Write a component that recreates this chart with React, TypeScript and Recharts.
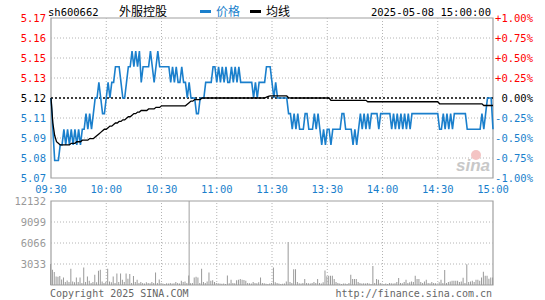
import React from 'react';
import { ComposedChart, Line, Bar, XAxis, YAxis, ReferenceLine, ReferenceArea } from 'recharts';

const STOCK_CODE = 'sh600662';
const STOCK_NAME = '外服控股';
const LEGEND_PRICE = '价格';
const LEGEND_AVG = '均线';
const DATE_TEXT = '2025-05-08 15:00:00';
const COPYRIGHT = 'Copyright 2025 SINA.COM';
const URL_TEXT = 'http://finance.sina.com.cn';

const PREV_CLOSE = 5.12;
const PRICE_MIN = 5.0688;
const PRICE_MAX = 5.1712;
const priceTicks = [5.0688, 5.0816, 5.0944, 5.1072, 5.12, 5.1328, 5.1456, 5.1584, 5.1712];
const pctTicks = [-1, -0.75, -0.5, -0.25, 0, 0.25, 0.5, 0.75, 1];
const minuteTicks = [0, 30, 60, 90, 120, 150, 180, 210, 240];
const timeLabels = ['09:30', '10:00', '10:30', '11:00', '11:30', '13:30', '14:00', '14:30', '15:00'];
const VOL_MAX = 12132;
const volTicks = [3033, 6066, 9099, 12132];
const VOL_MARKER_MINUTE = 75;

const prices = [
  5.12, 5.10, 5.08, 5.08, 5.08, 5.09, 5.09, 5.10, 5.09, 5.10,
  5.09, 5.10, 5.09, 5.10, 5.09, 5.10, 5.09, 5.10, 5.10, 5.11,
  5.10, 5.11, 5.10, 5.11, 5.12, 5.12, 5.13, 5.12, 5.11, 5.11,
  5.12, 5.13, 5.12, 5.13, 5.13, 5.14, 5.14, 5.14, 5.13, 5.12,
  5.12, 5.13, 5.14, 5.14, 5.15, 5.14, 5.15, 5.14, 5.15, 5.13,
  5.14, 5.14, 5.14, 5.14, 5.15, 5.14, 5.13, 5.14, 5.15, 5.14,
  5.14, 5.14, 5.14, 5.14, 5.14, 5.13, 5.14, 5.13, 5.14, 5.13,
  5.13, 5.14, 5.13, 5.13, 5.12, 5.13, 5.12, 5.12, 5.12, 5.11,
  5.11, 5.12, 5.12, 5.12, 5.13, 5.13, 5.13, 5.13, 5.14, 5.14,
  5.13, 5.14, 5.13, 5.14, 5.13, 5.14, 5.13, 5.13, 5.14, 5.13,
  5.14, 5.13, 5.14, 5.13, 5.13, 5.13, 5.13, 5.13, 5.13, 5.13,
  5.12, 5.13, 5.12, 5.13, 5.13, 5.13, 5.13, 5.14, 5.14, 5.14,
  5.13, 5.12, 5.13, 5.12, 5.12, 5.12, 5.12, 5.12, 5.12, 5.11,
  5.11, 5.10, 5.11, 5.10, 5.11, 5.10, 5.10, 5.10, 5.11, 5.11,
  5.10, 5.10, 5.10, 5.11, 5.10, 5.11, 5.10, 5.09, 5.10, 5.09,
  5.10, 5.10, 5.09, 5.10, 5.10, 5.10, 5.10, 5.10, 5.11, 5.11,
  5.10, 5.10, 5.10, 5.10, 5.09, 5.10, 5.09, 5.10, 5.11, 5.10,
  5.11, 5.10, 5.11, 5.10, 5.11, 5.11, 5.11, 5.11, 5.10, 5.11,
  5.11, 5.11, 5.11, 5.11, 5.11, 5.10, 5.11, 5.10, 5.11, 5.10,
  5.11, 5.10, 5.11, 5.10, 5.11, 5.10, 5.11, 5.11, 5.11, 5.11,
  5.11, 5.11, 5.11, 5.11, 5.11, 5.11, 5.11, 5.11, 5.11, 5.11,
  5.11, 5.10, 5.10, 5.11, 5.10, 5.11, 5.10, 5.11, 5.10, 5.11,
  5.11, 5.11, 5.11, 5.11, 5.11, 5.11, 5.10, 5.10, 5.10, 5.10,
  5.10, 5.10, 5.10, 5.10, 5.11, 5.10, 5.11, 5.12, 5.12, 5.12,
  5.10,
];

const avgPrices = [
  5.120, 5.104, 5.096, 5.092, 5.091, 5.090, 5.090, 5.090, 5.090, 5.090,
  5.090, 5.091, 5.091, 5.091, 5.092, 5.092, 5.092, 5.093, 5.093, 5.093,
  5.093, 5.094, 5.094, 5.094, 5.095, 5.096, 5.097, 5.098, 5.099, 5.100,
  5.100, 5.101, 5.102, 5.102, 5.103, 5.104, 5.104, 5.105, 5.105, 5.106,
  5.106, 5.107, 5.108, 5.108, 5.109, 5.110, 5.110, 5.111, 5.111, 5.112,
  5.112, 5.112, 5.112, 5.113, 5.113, 5.113, 5.113, 5.114, 5.114, 5.114,
  5.115, 5.115, 5.115, 5.115, 5.115, 5.115, 5.115, 5.115, 5.115, 5.115,
  5.115, 5.115, 5.115, 5.115, 5.116, 5.117, 5.118, 5.118, 5.119, 5.119,
  5.119, 5.119, 5.120, 5.120, 5.120, 5.120, 5.120, 5.120, 5.120, 5.120,
  5.120, 5.120, 5.120, 5.120, 5.120, 5.120, 5.120, 5.120, 5.120, 5.120,
  5.120, 5.120, 5.120, 5.120, 5.120, 5.120, 5.120, 5.120, 5.120, 5.120,
  5.120, 5.120, 5.120, 5.120, 5.120, 5.120, 5.120, 5.1205, 5.121, 5.1213,
  5.1213, 5.1213, 5.1213, 5.1213, 5.1213, 5.1213, 5.1213, 5.1213, 5.1213, 5.1202,
  5.120, 5.120, 5.120, 5.120, 5.120, 5.120, 5.120, 5.120, 5.120, 5.120,
  5.120, 5.120, 5.120, 5.120, 5.120, 5.120, 5.120, 5.120, 5.120, 5.120,
  5.120, 5.120, 5.1185, 5.1185, 5.1185, 5.1185, 5.1185, 5.1185, 5.1185, 5.1185,
  5.1185, 5.1185, 5.1185, 5.1185, 5.1185, 5.1185, 5.1185, 5.1185, 5.1185, 5.1185,
  5.1185, 5.1185, 5.1176, 5.1176, 5.1176, 5.1176, 5.1176, 5.1176, 5.1176, 5.1176,
  5.1176, 5.1176, 5.1176, 5.1176, 5.1176, 5.1176, 5.1176, 5.1176, 5.1176, 5.1176,
  5.1176, 5.1176, 5.1176, 5.1176, 5.1176, 5.1176, 5.1176, 5.1176, 5.1176, 5.1176,
  5.1176, 5.1176, 5.1176, 5.1176, 5.1176, 5.1176, 5.1176, 5.1176, 5.1176, 5.1176,
  5.1176, 5.1163, 5.1163, 5.1163, 5.1163, 5.1163, 5.1163, 5.1163, 5.1163, 5.1163,
  5.1163, 5.1163, 5.1163, 5.1163, 5.1163, 5.1163, 5.1163, 5.1163, 5.1163, 5.1163,
  5.1163, 5.1163, 5.1163, 5.1163, 5.1163, 5.1152, 5.1152, 5.1152, 5.1152, 5.1152,
  5.1152,
];

const volumes = [
  3030, 2200, 1870, 1240, 1200, 1300, 780, 1100, 430, 650,
  430, 2350, 500, 380, 1090, 430, 1090, 300, 2530, 430,
  1240, 620, 300, 430, 1480, 380, 2060, 2200, 520, 300,
  430, 2350, 520, 380, 1240, 300, 1670, 430, 1670, 760,
  430, 1670, 900, 1600, 300, 1300, 430, 760, 300, 430,
  300, 220, 380, 300, 260, 430, 300, 1800, 280, 780,
  300, 200, 160, 260, 220, 300, 200, 250, 420, 300,
  200, 620, 430, 520, 300, 1390, 260, 300, 1100, 1200,
  1100, 300, 2350, 430, 300, 520, 1800, 620, 700, 430,
  300, 260, 200, 180, 220, 160, 1390, 260, 760, 300,
  250, 680, 760, 850, 760, 720, 600, 300, 250, 200,
  430, 300, 260, 380, 1090, 300, 250, 180, 160, 200,
  300, 2530, 380, 300, 200, 160, 180, 200, 520, 6200,
  430, 300, 2270, 2270, 430, 260, 200, 300, 850, 300,
  260, 200, 300, 430, 300, 850, 300, 220, 380, 2080,
  1250, 1330, 1330, 1330, 850, 430, 300, 200, 160, 200,
  220, 160, 300, 1470, 850, 850, 850, 430, 300, 200,
  250, 200, 300, 220, 160, 2750, 300, 850, 750, 300,
  200, 160, 220, 160, 300, 250, 200, 260, 430, 1000,
  300, 260, 430, 750, 300, 380, 520, 430, 1330, 850,
  850, 430, 300, 520, 750, 300, 250, 430, 300, 260,
  200, 380, 750, 300, 2180, 300, 430, 520, 600, 600,
  600, 600, 430, 520, 1040, 300, 2990, 430, 520, 600,
  430, 750, 750, 600, 1100, 1900, 1330, 1330, 900, 1100,
  1100,
];

const priceData = prices.map((p, i) => ({ m: i, price: p, avg: avgPrices[i] }));
const volData = volumes.map((v, i) => ({ m: i, vol: v }));

const BLUE = '#1a7fcc';
const RED = '#ff0000';
const GRID = '#b4b4b4';
const BORDER = '#a0a0a0';
const MONO = '"DejaVu Sans Mono", "Liberation Mono", monospace';
const CJK = '"Noto Sans CJK SC", sans-serif';
const AXIS_FONT = 10.5;

const PriceTick = (props: any) => {
  const { x, y, payload } = props;
  const v = payload.value;
  const color = Math.abs(v - PREV_CLOSE) < 1e-6 ? '#000' : v > PREV_CLOSE ? RED : BLUE;
  return (
    <text x={x} y={y} dy="0.35em" textAnchor="end" fill={color} fontSize={AXIS_FONT} fontFamily={MONO}>
      {v.toFixed(2)}
    </text>
  );
};

const PctTick = (props: any) => {
  const { x, y, payload } = props;
  const v = payload.value;
  const color = Math.abs(v) < 1e-9 ? '#000' : v > 0 ? RED : BLUE;
  const label = (v > 0 ? '+' : '') + v.toFixed(2) + '%';
  return (
    <text x={x} y={y} dy="0.35em" textAnchor="end" fill={color} fontSize={AXIS_FONT} fontFamily={MONO}>
      {label}
    </text>
  );
};

const TimeTick = (props: any) => {
  const { x, y, payload } = props;
  const idx = minuteTicks.indexOf(payload.value);
  return (
    <text x={x} y={y} dy="0.35em" textAnchor="middle" fill={BLUE} fontSize={AXIS_FONT} fontFamily={MONO}>
      {timeLabels[idx]}
    </text>
  );
};

const VolTick = (props: any) => {
  const { x, y, payload } = props;
  return (
    <text x={x} y={y} dy="0.35em" textAnchor="end" fill="#999" fontSize={AXIS_FONT} fontFamily={MONO}>
      {String(payload.value)}
    </text>
  );
};

export default function App() {
  return (
    <div style={{ position: 'absolute', left: 0, top: 0, width: 545, height: 300, background: '#fff', overflow: 'hidden' }}>
      <div style={{ position: 'absolute', left: 0, top: 0 }}>
        <ComposedChart width={545} height={200} data={priceData} margin={{ top: 18, right: 0, bottom: 0, left: 1 }}>
          <XAxis
            dataKey="m"
            type="number"
            domain={[0, 240]}
            ticks={minuteTicks}
            interval={0}
            height={22}
            axisLine={false}
            tickLine={false}
            tickSize={0}
            tickMargin={11}
            tick={<TimeTick />}
          />
          <YAxis
            yAxisId="p"
            type="number"
            domain={[PRICE_MIN, PRICE_MAX]}
            ticks={priceTicks}
            interval={0}
            width={50}
            axisLine={false}
            tickLine={false}
            tickSize={0}
            tickMargin={5}
            allowDataOverflow
            tick={<PriceTick />}
          />
          <YAxis
            yAxisId="pct"
            orientation="right"
            type="number"
            domain={[-1, 1]}
            ticks={pctTicks}
            interval={0}
            width={52}
            axisLine={false}
            tickLine={false}
            tickSize={0}
            tickMargin={40}
            allowDataOverflow
            tick={<PctTick />}
          />
          {priceTicks.slice(1, -1).filter((t) => t !== PREV_CLOSE).map((t) => (
            <ReferenceLine key={'h' + t} yAxisId="p" y={t} stroke={GRID} strokeDasharray="1 2" />
          ))}
          {minuteTicks.slice(1, -1).map((t) => (
            <ReferenceLine key={'v' + t} yAxisId="p" x={t} stroke={GRID} strokeDasharray="1 2" />
          ))}
          <ReferenceArea yAxisId="p" x1={0} x2={240} y1={PRICE_MIN} y2={PRICE_MAX} fill="none" stroke={BORDER} strokeWidth={1.2} />
          <ReferenceLine yAxisId="pct" y={0} stroke="#000" strokeDasharray="2 2" strokeWidth={1.4} />
          <Line yAxisId="p" dataKey="price" type="linear" stroke={BLUE} strokeWidth={1.6} dot={false} isAnimationActive={false} />
          <Line yAxisId="p" dataKey="avg" type="linear" stroke="#000" strokeWidth={1.3} dot={false} isAnimationActive={false} />
        </ComposedChart>
      </div>
      <div style={{ position: 'absolute', left: 0, top: 190 }}>
        <ComposedChart width={545} height={110} data={volData} margin={{ top: 11, right: 52, bottom: 15, left: 1 }}>
          <XAxis dataKey="m" type="number" domain={[0, 240]} ticks={minuteTicks} hide />
          <YAxis
            yAxisId="v"
            type="number"
            domain={[0, VOL_MAX]}
            ticks={volTicks}
            interval={0}
            width={50}
            axisLine={false}
            tickLine={false}
            tickSize={0}
            tickMargin={5}
            allowDataOverflow
            tick={<VolTick />}
          />
          {volTicks.slice(0, -1).map((t) => (
            <ReferenceLine key={'vh' + t} yAxisId="v" y={t} stroke={GRID} strokeDasharray="1 2" />
          ))}
          {minuteTicks.slice(1, -1).map((t) => (
            <ReferenceLine key={'vv' + t} yAxisId="v" x={t} stroke={GRID} strokeDasharray="1 2" />
          ))}
          <ReferenceLine yAxisId="v" x={VOL_MARKER_MINUTE} stroke={BORDER} />
          <ReferenceArea yAxisId="v" x1={0} x2={240} y1={0} y2={VOL_MAX} fill="none" stroke={BORDER} strokeWidth={1.2} />
          <Bar yAxisId="v" dataKey="vol" fill="#999" barSize={1} isAnimationActive={false} />
        </ComposedChart>
      </div>
      <svg width={545} height={300} style={{ position: 'absolute', left: 0, top: 0, pointerEvents: 'none' }}>
        <text x={48} y={12} dy="0.35em" fontSize={10.5} fontFamily={MONO} fill="#000">{STOCK_CODE}</text>
        <text x={119} y={12} dy="0.35em" fontSize={12} fontFamily={CJK} fill="#000">{STOCK_NAME}</text>
        <rect x={200} y={10} width={11} height={3} fill={BLUE} />
        <text x={216} y={12} dy="0.35em" fontSize={12} fontFamily={CJK} fill={BLUE}>{LEGEND_PRICE}</text>
        <rect x={250} y={10} width={11} height={3} fill="#000" />
        <text x={266} y={12} dy="0.35em" fontSize={12} fontFamily={CJK} fill="#000">{LEGEND_AVG}</text>
        <text x={491} y={12} dy="0.35em" textAnchor="end" fontSize={10.5} fontFamily={MONO} fill="#000">{DATE_TEXT}</text>
        <text x={50} y={293} dy="0.35em" fontSize={10} fontFamily={MONO} fill="#666">{COPYRIGHT}</text>
        <text x={492} y={293} dy="0.35em" textAnchor="end" fontSize={10} fontFamily={MONO} fill="#666">{URL_TEXT}</text>
        <circle cx={476} cy={155} r={5} fill="#f4c4c4" />
        <text x={473} y={171} textAnchor="middle" fontSize={17} fontStyle="italic" fontWeight="bold" fontFamily="Arial, sans-serif" fill="#c8c8c8">sina</text>
      </svg>
    </div>
  );
}
